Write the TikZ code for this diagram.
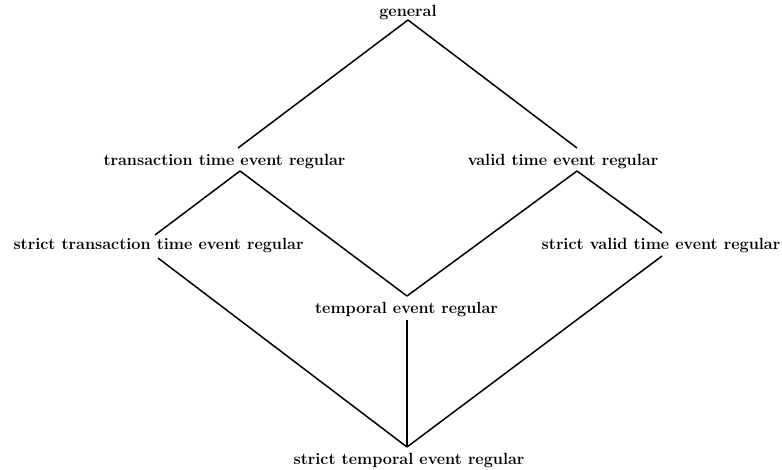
\documentclass[tikz,border=0pt]{standalone}
\begin{document}
\begin{tikzpicture}[x=1pt,y=-1pt,
  lbl/.style={anchor=base,inner sep=0pt,font=\fontsize{16.2}{19}\selectfont\bfseries},
  edge/.style={line width=1.5pt}]
\useasboundingbox (0,0) rectangle (782,469);
\node[lbl] (gen) at (408,16) {general};
\node[lbl] (tt) at (224.5,165) {transaction time event regular};
\node[lbl] (vt) at (563,165) {valid time event regular};
\node[lbl] (stt) at (158.5,249) {strict transaction time event regular};
\node[lbl] (svt) at (661,249) {strict valid time event regular};
\node[lbl] (te) at (406.5,313) {temporal event regular};
\node[lbl] (ste) at (409,464) {strict temporal event regular};
% joints
\coordinate (gen-b) at (408,20);
\coordinate (tt-t) at (238,148);
\coordinate (tt-b) at (240,171);
\coordinate (vt-t) at (577,148);
\coordinate (vt-b) at (577,171);
\coordinate (stt-t) at (155,235);
\coordinate (stt-b) at (158,258);
\coordinate (svt-t) at (662,233);
\coordinate (svt-b) at (662,256);
\coordinate (te-t) at (407,296);
\coordinate (te-b) at (407,320);
\coordinate (ste-t) at (407,447);
\draw[edge] (gen-b) -- (tt-t);
\draw[edge] (gen-b) -- (vt-t);
\draw[edge] (tt-b) -- (stt-t);
\draw[edge] (tt-b) -- (te-t);
\draw[edge] (vt-b) -- (te-t);
\draw[edge] (vt-b) -- (svt-t);
\draw[edge] (stt-b) -- (ste-t);
\draw[edge] (svt-b) -- (ste-t);
\draw[edge] (te-b) -- (ste-t);
\end{tikzpicture}
\end{document}
